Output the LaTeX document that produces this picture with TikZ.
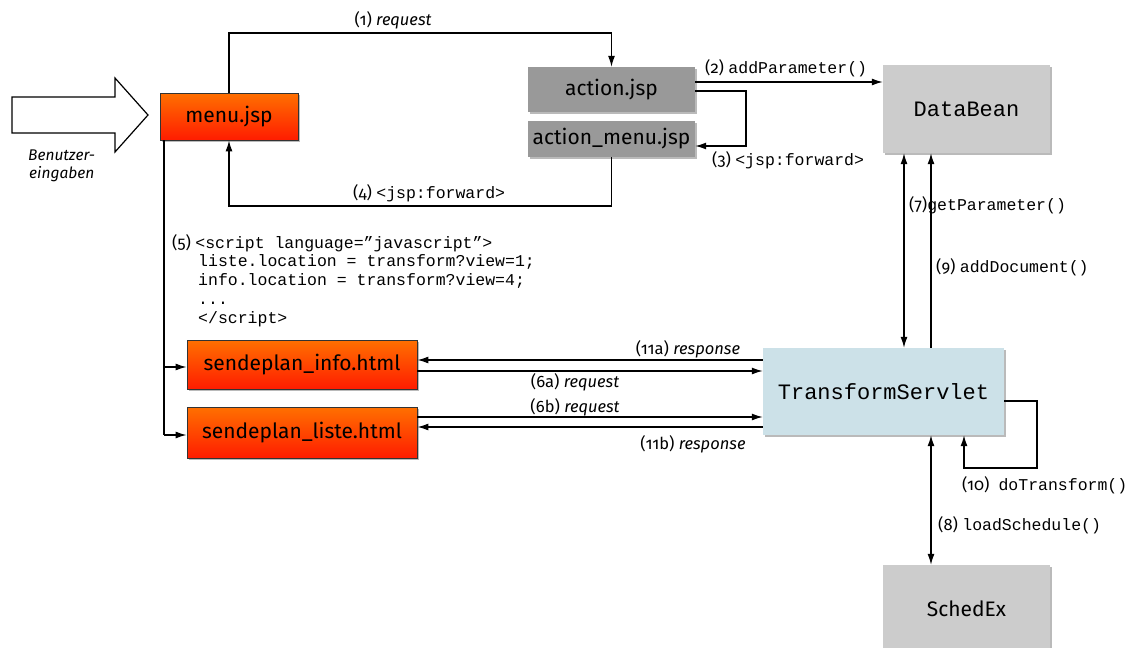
\documentclass[tikz,border=0pt]{standalone}
\usepackage{fontspec}
\setmainfont{Fira Sans}[Numbers=OldStyle]
\setmonofont{Liberation Mono}
\usetikzlibrary{arrows.meta,shadows}

\definecolor{orangetop}{RGB}{255,112,0}
\definecolor{orangebot}{RGB}{255,28,0}
\definecolor{jspgray}{RGB}{153,153,153}
\definecolor{beangray}{RGB}{204,204,204}
\definecolor{servletblue}{RGB}{204,225,232}

\tikzset{
  shade box/.style={drop shadow={shadow xshift=1.6pt, shadow yshift=-1.6pt, opacity=0.45, fill=black!60}},
  htmlbox/.style={shade box, draw=black!80, line width=0.8pt, top color=orangetop, bottom color=orangebot,
    inner sep=0pt, font=\normalfont\fontsize{21}{25}\selectfont},
  jspbox/.style={shade box, fill=jspgray, inner sep=0pt, font=\normalfont\fontsize{21}{25}\selectfont},
  beanbox/.style={shade box, fill=beangray, inner sep=0pt, font=\ttfamily\fontsize{22}{26}\selectfont},
  servletbox/.style={shade box, fill=servletblue, inner sep=0pt, font=\ttfamily\fontsize{22}{26}\selectfont},
  flow/.style={line width=1.3pt, -{Latex[length=11pt,width=7pt]}},
  twoway/.style={line width=1.3pt, {Latex[length=11pt,width=7pt]}-{Latex[length=11pt,width=7pt]}},
  wire/.style={line width=1.3pt},
  lbl/.style={inner sep=0pt, font=\fontsize{16.5}{19}\selectfont},
  mono/.style={font=\ttfamily\fontsize{16.5}{19}\selectfont},
}
\newcommand\codetxt[1]{\texttt{\fontsize{16.5}{19}\selectfont #1}}

\begin{document}
\begin{tikzpicture}[x=1pt,y=-1pt]
\useasboundingbox (0,0) rectangle (1130,648);

% user input arrow
\draw[line width=1.2pt, fill=white] (12,97) -- (115,97) -- (115,78) -- (148,115) -- (115,152) -- (115,133) -- (12,133) -- cycle;
\node[lbl, anchor=west, font=\itshape\fontsize{15.5}{18}\selectfont] (user1) at (28,155) {Benutzer-};
\node[lbl, anchor=west, font=\itshape\fontsize{15.5}{18}\selectfont] (user2) at (29,174) {eingaben};

% components
\node[htmlbox, minimum width=138pt, minimum height=47pt] (menu) at (229,116.5) {menu.jsp\hspace{14pt}};
\node[jspbox, minimum width=167pt, minimum height=45pt] (action) at (611.5,89.5) {action.jsp};
\node[jspbox, minimum width=167pt, minimum height=36pt] (amenu) at (611.5,139) {action\_menu.jsp};
\node[beanbox, minimum width=167pt, minimum height=88pt] (bean) at (966.5,109) {DataBean};
\node[servletbox, minimum width=241pt, minimum height=87pt] (servlet) at (883.5,391.5) {TransformServlet};
\node[jspbox, fill=beangray, minimum width=167pt, minimum height=88pt] (sched) at (966.5,609) {SchedEx};
\node[htmlbox, minimum width=230pt, minimum height=49pt] (info) at (302,364.5) {sendeplan\_info.html};
\node[htmlbox, minimum width=230pt, minimum height=51pt] (liste) at (302,432.5) {sendeplan\_liste.html};

% helper points for bends
\coordinate (top1) at (0,33);
\coordinate (bend3) at (746,146);
\coordinate (low4) at (0,206);
\coordinate (trunk) at (164,0);
\coordinate (loop10a) at (1037,401);
\coordinate (loop10b) at (964,468);

% (1) request
\draw[flow] (menu.north) -- (menu.north |- top1) -| (action.north);
\node[lbl] (l1) at (393,20) {(1) \textit{request}};

% (2) addParameter()
\draw[flow] (action.east |- 0,82) -- (bean.west |- 0,82);
\node[lbl, anchor=west] (l2) at (705,68) {(2) \codetxt{addParameter()}};

% (3) forward
\draw[flow] (action.east |- 0,91) -| (bend3) -- (amenu.east |- bend3);
\node[lbl, anchor=west] (l3) at (712,160) {(3) \codetxt{<jsp:forward>}};

% (4) forward
\draw[flow] (amenu.south) -- (amenu.south |- low4) -| (menu.south);
\node[lbl, anchor=west] (l4) at (353,193) {(4) \codetxt{<jsp:forward>}};

% (5) script loading both frames
\draw[wire] (menu.south -| trunk) -- (trunk |- 0,435);
\draw[flow] (trunk |- 0,367) -- (info.west |- 0,367);
\draw[flow] (trunk |- 0,435) -- (liste.west |- 0,435);
\node[lbl, anchor=west] (l5) at (172,243) {(5) \codetxt{<script language=”javascript”>}};
\node[mono, anchor=north west, align=left, inner sep=0pt] (code) at (198,254)
  {liste.location = transform?view=1;\\info.location = transform?view=4;\\...\\</script>};

% (6)/(11) request and response
\draw[flow] (servlet.west |- 0,360) -- (info.east |- 0,360);
\draw[flow] (info.east |- 0,371) -- (servlet.west |- 0,371);
\draw[flow] (liste.east |- 0,417) -- (servlet.west |- 0,417);
\draw[flow] (servlet.west |- 0,427) -- (liste.east |- 0,427);
\node[lbl] (l11a) at (688,349) {(11a) \textit{response}};
\node[lbl] (l6a) at (575,382) {(6a) \textit{request}};
\node[lbl] (l6b) at (575,407) {(6b) \textit{request}};
\node[lbl] (l11b) at (693,444) {(11b) \textit{response}};

% (7) getParameter(), (9) addDocument()
\draw[twoway] (servlet.north -| 904,0) -- (bean.south -| 904,0);
\draw[flow] (servlet.north -| 931,0) -- (bean.south -| 931,0);
\node[lbl, anchor=west] (l7) at (909,205) {(7)\codetxt{getParameter()}};
\node[lbl, anchor=west] (l9) at (936,267) {(9) \codetxt{addDocument()}};

% (10) doTransform()
\draw[flow] (servlet.east |- loop10a) -- (loop10a) |- (loop10b) -- (servlet.south -| loop10b);
\node[lbl, anchor=west] (l10) at (962,485) {(10)\hspace{9pt}\codetxt{doTransform()}};

% (8) loadSchedule()
\draw[twoway] (servlet.south -| 931,0) -- (sched.north -| 931,0);
\node[lbl, anchor=west] (l8) at (938,525) {(8) \codetxt{loadSchedule()}};

\end{tikzpicture}
\end{document}
